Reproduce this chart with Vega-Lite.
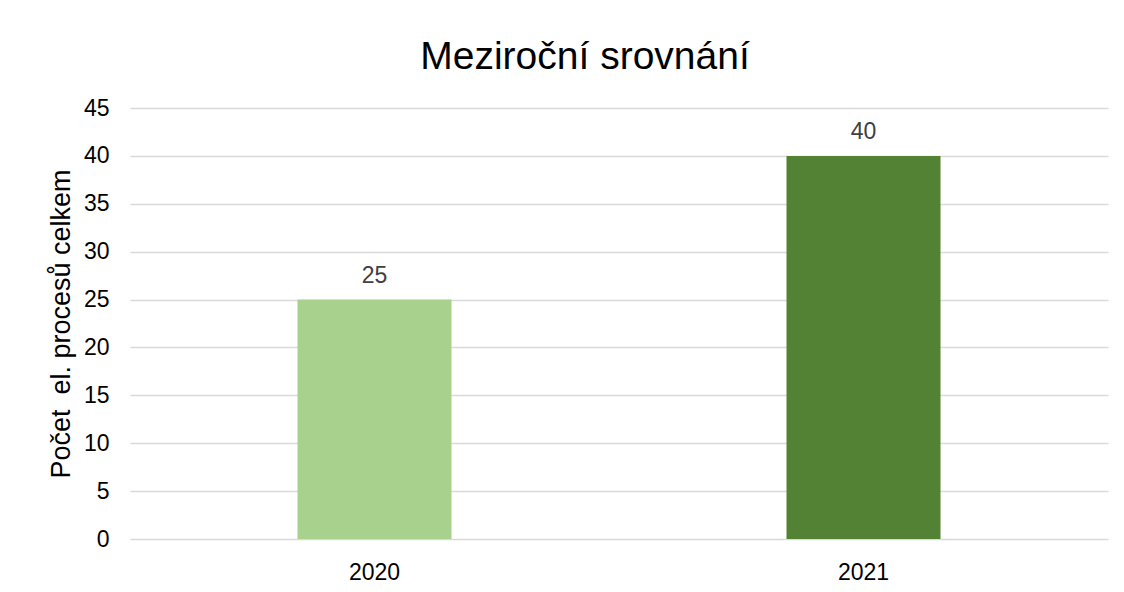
{
  "$schema": "https://vega.github.io/schema/vega-lite/v6.json",
  "width": 978,
  "height": 431,
  "autosize": {"type": "none"},
  "padding": {"left": 130, "top": 108, "right": 16, "bottom": 53},
  "background": "white",
  "config": {
    "font": "Liberation Sans",
    "view": {"stroke": null}
  },
  "title": {
    "text": "Meziroční srovnání",
    "fontSize": 39,
    "fontWeight": "normal",
    "color": "#000000",
    "font": "Liberation Sans",
    "anchor": "middle",
    "dx": -34,
    "offset": 20
  },
  "data": {
    "values": [
      {"rok": "2020", "pocet": 25},
      {"rok": "2021", "pocet": 40}
    ]
  },
  "encoding": {
    "x": {
      "field": "rok",
      "type": "nominal",
      "scale": {"paddingInner": 0, "paddingOuter": 0},
      "axis": {
        "title": null,
        "labelAngle": 0,
        "labelFontSize": 23,
        "labelColor": "#000000",
        "labelPadding": 22,
        "ticks": false,
        "domain": false,
        "grid": false
      }
    },
    "y": {
      "field": "pocet",
      "type": "quantitative",
      "scale": {"domain": [0, 45]},
      "axis": {
        "values": [0, 5, 10, 15, 20, 25, 30, 35, 40, 45],
        "title": "Počet\u00a0 el. procesů celkem",
        "titleFontSize": 27,
        "titleFontWeight": "normal",
        "titleColor": "#000000",
        "titlePadding": 8,
        "labelFontSize": 23,
        "labelColor": "#000000",
        "labelPadding": 21,
        "ticks": false,
        "domain": false,
        "gridColor": "#d9d9d9",
        "gridWidth": 1.5
      }
    }
  },
  "layer": [
    {
      "mark": {"type": "bar", "size": 154},
      "encoding": {
        "color": {
          "field": "rok",
          "type": "nominal",
          "scale": {"domain": ["2020", "2021"], "range": ["#a9d18e", "#548235"]},
          "legend": null
        }
      }
    },
    {
      "mark": {"type": "text", "dy": -24, "fontSize": 23, "color": "#404040"},
      "encoding": {
        "text": {"field": "pocet", "type": "quantitative"}
      }
    }
  ]
}
